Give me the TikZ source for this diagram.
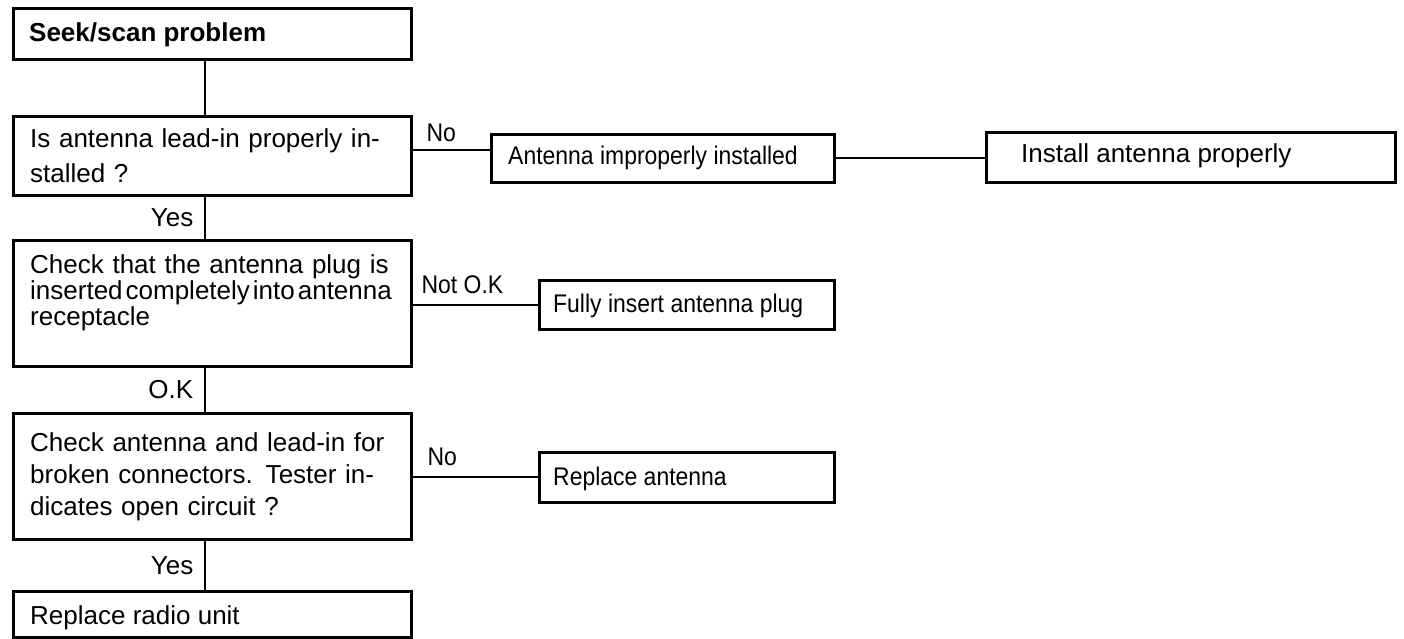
\documentclass[tikz,border=0pt]{standalone}
\usepackage{fontspec}
\setmainfont{Liberation Sans}
\newfontfamily\condfont[FakeStretch=0.9]{Liberation Sans}
\begin{document}
\begin{tikzpicture}[x=1pt,y=-1pt,
  box/.style={draw, line width=2.6pt, anchor=north west, inner sep=0pt},
  txt/.style={anchor=base west, inner sep=0pt, align=left, font=\fontsize{26}{30}\selectfont},
  ctxt/.style={anchor=base west, inner sep=0pt, align=left, font=\condfont\fontsize{25.5}{30}\selectfont},
  conn/.style={line width=2.1pt},
  lbl/.style={inner sep=0pt, font=\fontsize{26}{30}\selectfont},
  clbl/.style={inner sep=0pt, font=\condfont\fontsize{25.5}{30}\selectfont}]
\useasboundingbox (0,0) rectangle (1404,639);

% boxes
\node[box, minimum width=398pt, minimum height=51pt] (b1) at (12,7) {};
\node[box, minimum width=398pt, minimum height=79pt] (b2) at (12,115) {};
\node[box, minimum width=343pt, minimum height=48pt] (a1) at (490,133) {};
\node[box, minimum width=409pt, minimum height=50pt] (i1) at (985,131) {};
\node[box, minimum width=398pt, minimum height=126pt] (b3) at (12,239) {};
\node[box, minimum width=295pt, minimum height=49pt] (f1) at (538,279) {};
\node[box, minimum width=398pt, minimum height=126pt] (b4) at (12,412) {};
\node[box, minimum width=295pt, minimum height=50pt] (r1) at (538,451) {};
\node[box, minimum width=398pt, minimum height=46pt] (b5) at (12,590) {};

% texts
\node[txt, font=\bfseries\fontsize{26}{30}\selectfont] (t1) at (29,42) {Seek/scan problem};
\node[txt, text width=372pt, font=\fontsize{26}{35}\selectfont] (t2) at (30,148)
  {\makebox[360pt][s]{Is antenna lead-in properly in-}\\stalled ?};
\node[ctxt] (ta1) at (508,165) {Antenna improperly installed};
\node[txt] (ti1) at (1021,163) {Install antenna properly};
\node[txt, text width=372pt, font=\fontsize{26}{26}\selectfont] (t3) at (30,273)
  {\makebox[360pt][s]{Check that the antenna plug is}\\inserted\hspace{3pt}completely\hspace{3pt}into\hspace{3pt}antenna\\receptacle};
\node[ctxt] (tf1) at (553,312) {Fully insert antenna plug};
\node[txt, text width=372pt, font=\fontsize{26}{32}\selectfont] (t4) at (30,451)
  {\makebox[360pt][s]{Check antenna and lead-in for}\\\makebox[360pt][s]{broken connectors. Tester in-}\\dicates open circuit ?};
\node[ctxt] (tr1) at (553,485) {Replace antenna};
\node[txt] (t5) at (30,624) {Replace radio unit};

% connectors
\draw[conn] ([xshift=-7pt]b1.south) -- ([xshift=-7pt]b2.north);
\coordinate (c1) at ([yshift=8pt]a1.west);
\draw[conn] (c1 -| b2.east) -- node[clbl, pos=0, anchor=base west, xshift=13pt, yshift=9pt] (l1) {No} (c1);
\draw[conn] (a1.east) -- (a1.east -| i1.west);
\draw[conn] ([xshift=-7pt]b2.south) -- node[lbl, anchor=east, xshift=-11pt] (l2) {Yes} ([xshift=-7pt]b3.north);
\draw[conn] (f1.west -| b3.east) -- node[clbl, pos=0, anchor=base west, xshift=8pt, yshift=11pt] (l3) {Not O.K} (f1.west);
\draw[conn] ([xshift=-7pt]b3.south) -- node[lbl, anchor=east, xshift=-11pt] (l4) {O.K} ([xshift=-7pt]b4.north);
\draw[conn] (r1.west -| b4.east) -- node[clbl, pos=0, anchor=base west, xshift=14pt, yshift=12pt] (l5) {No} (r1.west);
\draw[conn] ([xshift=-7pt]b4.south) -- node[lbl, anchor=east, xshift=-11pt] (l6) {Yes} ([xshift=-7pt]b5.north);
\end{tikzpicture}
\end{document}
